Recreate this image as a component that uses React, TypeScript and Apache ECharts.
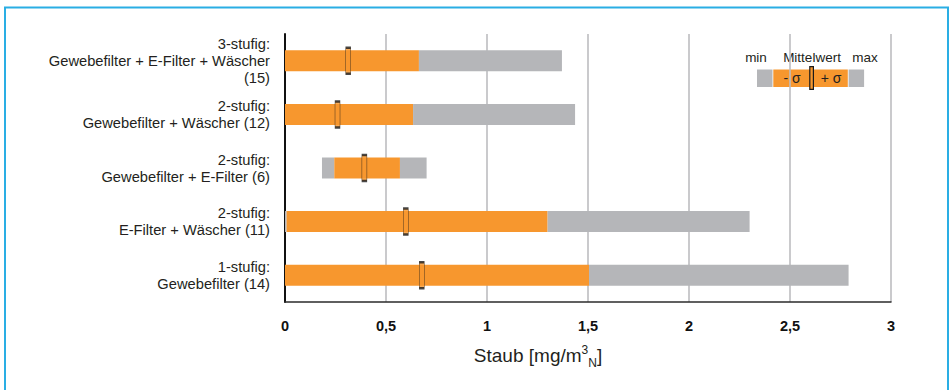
import React, { useEffect, useRef } from "react";
import * as echarts from "echarts";

const categories = [
  "3-stufig:\nGewebefilter + E-Filter + Wäscher\n(15)",
  "2-stufig:\nGewebefilter + Wäscher (12)",
  "2-stufig:\nGewebefilter + E-Filter (6)",
  "2-stufig:\nE-Filter + Wäscher (11)",
  "1-stufig:\nGewebefilter (14)",
];
const minVals = [0, 0, 0.183, 0, 0];
const lowVals = [0, 0, 0.244, 0.008, 0];
const highVals = [0.663, 0.634, 0.569, 1.3, 1.505];
const maxVals = [1.371, 1.436, 0.701, 2.3, 2.79];
const meanVals = [0.313, 0.26, 0.393, 0.598, 0.677];
const xTicks = { min: 0, max: 3, interval: 0.5 };

const ORANGE = "#F7972E";
const GRAY = "#B5B6B9";
const FONT = "Liberation Sans, Arial, sans-serif";

export default function App() {
  const ref = useRef<HTMLDivElement>(null);
  useEffect(() => {
    if (!ref.current) return;
    const chart = echarts.init(ref.current, null, { renderer: "svg" });
    const grayLeft = lowVals.map((v, i) => +(v - minVals[i]).toFixed(4));
    const orange = highVals.map((v, i) => +(v - lowVals[i]).toFixed(4));
    const grayRight = maxVals.map((v, i) => +(v - highVals[i]).toFixed(4));
    const barW = 21;
    chart.setOption({
      animation: false,
      backgroundColor: "#ffffff",
      textStyle: { fontFamily: FONT },
      grid: { left: 285, right: 59, top: 34, bottom: 88, containLabel: false },
      xAxis: {
        type: "value",
        min: xTicks.min,
        max: xTicks.max,
        interval: xTicks.interval,
        axisLine: { show: true, onZero: false, lineStyle: { color: "#2b2b2b", width: 1.5 } },
        axisTick: { show: false },
        axisLabel: {
          margin: 16,
          color: "#111",
          fontWeight: "bold",
          fontSize: 14.5,
          fontFamily: FONT,
          formatter: (v: number) => String(v).replace(".", ","),
        },
        splitLine: { show: true, lineStyle: { color: "#BDBDC0", width: 1.6 } },
      },
      yAxis: {
        type: "category",
        data: categories,
        inverse: true,
        axisLine: { show: true, lineStyle: { color: "#111", width: 2 } },
        axisTick: { show: false },
        axisLabel: {
          margin: 15,
          color: "#231f20",
          fontSize: 14.7,
          lineHeight: 17,
          fontFamily: FONT,
          align: "right",
        },
        splitLine: { show: false },
      },
      series: [
        {
          type: "bar",
          stack: "s",
          data: minVals,
          barWidth: barW,
          itemStyle: { color: "transparent" },
          silent: true,
        },
        {
          type: "bar",
          stack: "s",
          data: grayLeft,
          barWidth: barW,
          itemStyle: { color: GRAY },
        },
        {
          type: "bar",
          stack: "s",
          data: orange,
          barWidth: barW,
          itemStyle: { color: ORANGE },
        },
        {
          type: "bar",
          stack: "s",
          data: grayRight,
          barWidth: barW,
          itemStyle: { color: GRAY },
        },
        {
          type: "scatter",
          data: meanVals.map((v, i) => [v, i]),
          symbol: "rect",
          symbolSize: [5, 26],
          z: 5,
          itemStyle: { color: ORANGE, borderColor: "#1a1a1a", borderWidth: 1.1 },
        },
      ],
      graphic: [
        {
          type: "rect",
          z: 100,
          silent: true,
          shape: { x: 5, y: 7.5, width: 943, height: 400 },
          style: { fill: "none", stroke: "#2AAEE4", lineWidth: 2 },
        },
        {
          type: "group",
          z: 50,
          children: [
            { type: "rect", shape: { x: 742, y: 34, width: 140, height: 62 }, style: { fill: "#fff" } },
            { type: "text", x: 756, y: 57, style: { text: "min", fontSize: 13.5, fontFamily: FONT, fill: "#231f20", align: "center", verticalAlign: "middle" } },
            { type: "text", x: 812, y: 57, style: { text: "Mittelwert", fontSize: 13.5, fontFamily: FONT, fill: "#231f20", align: "center", verticalAlign: "middle" } },
            { type: "text", x: 865, y: 57, style: { text: "max", fontSize: 13.5, fontFamily: FONT, fill: "#231f20", align: "center", verticalAlign: "middle" } },
            { type: "rect", shape: { x: 757, y: 69.5, width: 15.5, height: 17.5 }, style: { fill: GRAY } },
            { type: "rect", shape: { x: 773.3, y: 69.5, width: 74.5, height: 17.5 }, style: { fill: ORANGE } },
            { type: "rect", shape: { x: 848.6, y: 69.5, width: 15.5, height: 17.5 }, style: { fill: GRAY } },
            { type: "rect", shape: { x: 809.8, y: 66.7, width: 3.6, height: 22.6 }, style: { fill: ORANGE, stroke: "#1a1a1a", lineWidth: 1.2 } },
            { type: "text", x: 792, y: 78, style: { text: "- σ", fontSize: 14, fontFamily: FONT, fill: "#231f20", align: "center", verticalAlign: "middle" } },
            { type: "text", x: 831, y: 78, style: { text: "+ σ", fontSize: 14, fontFamily: FONT, fill: "#231f20", align: "center", verticalAlign: "middle" } },
          ],
        },
        {
          type: "text",
          x: 538,
          y: 355,
          style: {
            text: "{a|Staub [mg/m}{sup|3}{sub|N}{a|]}",
            align: "center",
            verticalAlign: "middle",
            fill: "#231f20",
            fontFamily: FONT,
            rich: {
              a: { fontSize: 19, lineHeight: 28, verticalAlign: "middle", fontFamily: FONT, fill: "#231f20" },
              sup: { fontSize: 12, lineHeight: 12, verticalAlign: "top", padding: [3, 0, 0, 0], fontFamily: FONT, fill: "#231f20" },
              sub: { fontSize: 12, lineHeight: 12, verticalAlign: "bottom", fontFamily: FONT, fill: "#231f20" },
            },
          },
        },
      ],
    });
    return () => chart.dispose();
  }, []);
  return (
    <div
      ref={ref}
      style={{ position: "absolute", left: 0, top: 0, width: 950, height: 390 }}
    />
  );
}
